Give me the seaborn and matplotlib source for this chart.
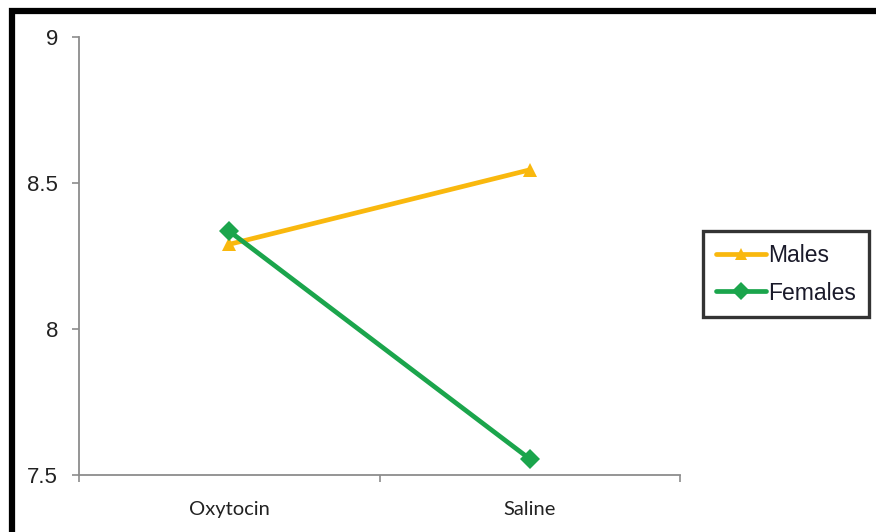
import matplotlib
matplotlib.use("Agg")
import matplotlib.pyplot as plt
import matplotlib.patches as mpatches
from matplotlib.ticker import FixedLocator
import numpy as np
import pandas as pd
import seaborn as sns

# Mean scores by treatment and sex
conditions = ["Oxytocin", "Saline"]
males = [8.29, 8.545]
females = [8.335, 7.555]
series_names = ["Males", "Females"]
y_ticks = [7.5, 8, 8.5, 9]
y_tick_labels = ["7.5", "8", "8.5", "9"]

df = pd.DataFrame({
    "condition": conditions * 2,
    "value": males + females,
    "group": [series_names[0]] * len(conditions) + [series_names[1]] * len(conditions),
})

sns.set_style("white")
plt.rcParams["font.family"] = ["Liberation Sans", "DejaVu Sans"]

fig = plt.figure(figsize=(8.76, 5.32), dpi=100)
ax = fig.add_axes([79 / 876, 1 - 475 / 532, (680 - 79) / 876, (475 - 37) / 532])

palette = {"Males": "#F9B80E", "Females": "#1BA54C"}
markers = {"Males": "^", "Females": "D"}

sns.lineplot(
    data=df, x="condition", y="value", hue="group", style="group",
    hue_order=series_names, style_order=series_names,
    palette=palette, markers=markers, dashes=False,
    linewidth=3.4, markersize=10.5, markeredgewidth=0,
    legend=False, ax=ax,
)

ax.set_xlim(-0.5, 1.5)
ax.set_ylim(7.5, 9)
ax.set_xlabel("")
ax.set_ylabel("")

# category labels centred, boundary tick marks between categories
ax.set_xticks([0, 1])
ax.set_xticklabels(conditions, fontfamily=["Lato", "DejaVu Sans"], fontsize=14.5, color="#222222")
ax.tick_params(axis="x", which="major", length=0, pad=19)
ax.xaxis.set_minor_locator(FixedLocator([-0.5, 0.5, 1.5]))
ax.tick_params(axis="x", which="minor", length=5, width=1.2, color="#8c8c8c", bottom=True)

ax.set_yticks(y_ticks)
ax.set_yticklabels(y_tick_labels, fontsize=16, color="#222222")
ax.tick_params(axis="y", length=5, width=1.2, color="#8c8c8c", pad=10, left=True)

for side in ["top", "right"]:
    ax.spines[side].set_visible(False)
for side in ["left", "bottom"]:
    ax.spines[side].set_color("#8c8c8c")
    ax.spines[side].set_linewidth(1.3)

# legend
handles = [
    plt.Line2D([], [], color=palette[n], marker=markers[n], linewidth=3.4,
               markersize=9, markeredgewidth=0)
    for n in series_names
]
leg = fig.legend(
    handles, series_names, loc="upper left",
    bbox_to_anchor=(703 / 876, 1 - 231 / 532),
    frameon=True, fancybox=False, shadow=False, fontsize=16.5,
    handlelength=2.2, handletextpad=0.1, borderpad=0.55, labelspacing=0.65,
    borderaxespad=0,
)
leg.get_frame().set_edgecolor("black")
leg.get_frame().set_linewidth(2.4)
for t in leg.get_texts():
    t.set_color("#1a1a2a")

# outer chart border
border = mpatches.Rectangle(
    (11.5 / 876, -0.2), 2.0, 1 - 11 / 532 + 0.2,
    transform=fig.transFigure, fill=False, edgecolor="black",
    linewidth=4.5, clip_on=False,
)
fig.patches.append(border)

fig.savefig("out.png", dpi=100)
